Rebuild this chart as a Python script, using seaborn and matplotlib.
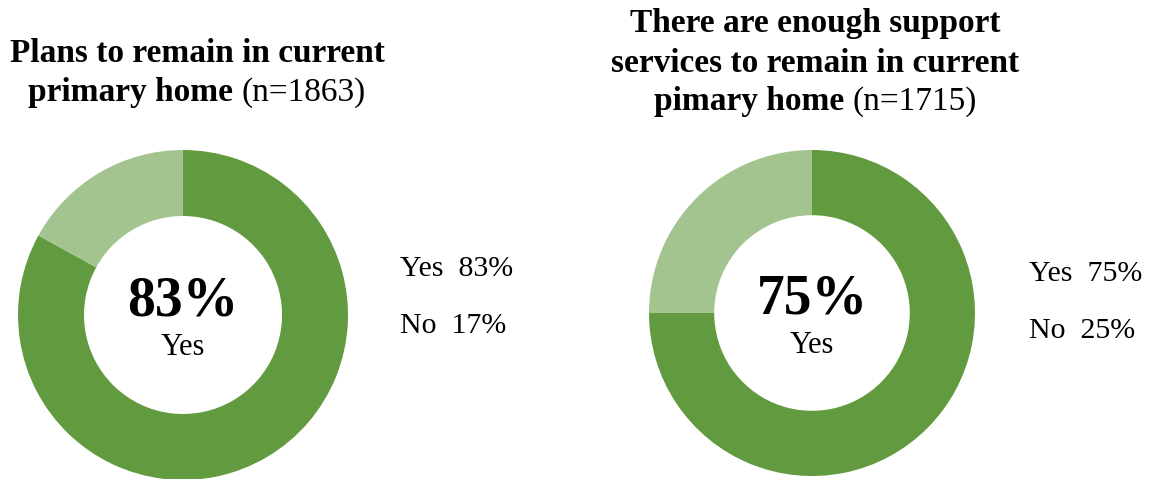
import matplotlib
matplotlib.use("Agg")
import matplotlib.pyplot as plt
import seaborn as sns

sns.set_theme(style="white")
plt.rcParams['font.family'] = ['Liberation Serif', 'DejaVu Serif']
plt.rcParams['text.color'] = 'black'

# Data
labels = ["Yes", "No"]
chart1_values = [83, 17]
chart2_values = [75, 25]
chart1_title_bold = ["Plans to remain in current", "primary home"]
chart1_n = "(n=1863)"
chart2_title_bold = ["There are enough support", "services to remain in current", "pimary home"]
chart2_n = "(n=1715)"
colors = ["#629B3F", "#A3C48F"]

W, H = 1152, 479
fig = plt.figure(figsize=(W / 100, H / 100), dpi=100)
fig.patch.set_facecolor("white")


def px(x, y):
    return x / W, 1 - y / H


def donut(cx, cy, r, values):
    ax = fig.add_axes([(cx - r) / W, (H - cy - r) / H, 2 * r / W, 2 * r / H])
    ax.pie(values, colors=colors, startangle=90, counterclock=False,
           radius=1, wedgeprops=dict(width=0.4, edgecolor="none"))
    ax.set_xlim(-1, 1)
    ax.set_ylim(-1, 1)
    ax.set_aspect("auto")
    ax.axis("off")
    return ax


fig.canvas.draw()
renderer = fig.canvas.get_renderer()


def mixed_line(cx, y, segments, size):
    # segments: list of (text, weight)
    texts = []
    widths = []
    for s, w in segments:
        t = fig.text(0, 0, s, fontsize=size, fontweight=w, va="baseline", ha="left")
        bb = t.get_window_extent(renderer=renderer)
        texts.append(t)
        widths.append(bb.width)
    total = sum(widths)
    x = cx - total / 2
    for t, wd in zip(texts, widths):
        t.set_position(px(x, y))
        x += wd


title_size = 24
leg_size = 21.5

# Chart 1
donut(183, 315, 165, chart1_values)
mixed_line(197, 62, [(chart1_title_bold[0], "bold")], title_size)
mixed_line(197, 101, [(chart1_title_bold[1] + " ", "bold"), (chart1_n, "normal")], title_size)
fig.text(*px(183, 315), f"{chart1_values[0]}%", fontsize=40, fontweight="bold",
         ha="center", va="baseline")
fig.text(*px(183, 355), labels[0], fontsize=22, ha="center", va="baseline")
fig.text(*px(400, 276), f"{labels[0]}  {chart1_values[0]}%", fontsize=leg_size, ha="left", va="baseline")
fig.text(*px(400, 333), f"{labels[1]}  {chart1_values[1]}%", fontsize=leg_size, ha="left", va="baseline")

# Chart 2
donut(812, 313, 163, chart2_values)
mixed_line(815, 32, [(chart2_title_bold[0], "bold")], title_size)
mixed_line(815, 72, [(chart2_title_bold[1], "bold")], title_size)
mixed_line(815, 110, [(chart2_title_bold[2] + " ", "bold"), (chart2_n, "normal")], title_size)
fig.text(*px(812, 313), f"{chart2_values[0]}%", fontsize=40, fontweight="bold",
         ha="center", va="baseline")
fig.text(*px(812, 353), labels[0], fontsize=22, ha="center", va="baseline")
fig.text(*px(1029, 281), f"{labels[0]}  {chart2_values[0]}%", fontsize=leg_size, ha="left", va="baseline")
fig.text(*px(1029, 338), f"{labels[1]}  {chart2_values[1]}%", fontsize=leg_size, ha="left", va="baseline")

fig.savefig("out.png", dpi=100, facecolor="white")
